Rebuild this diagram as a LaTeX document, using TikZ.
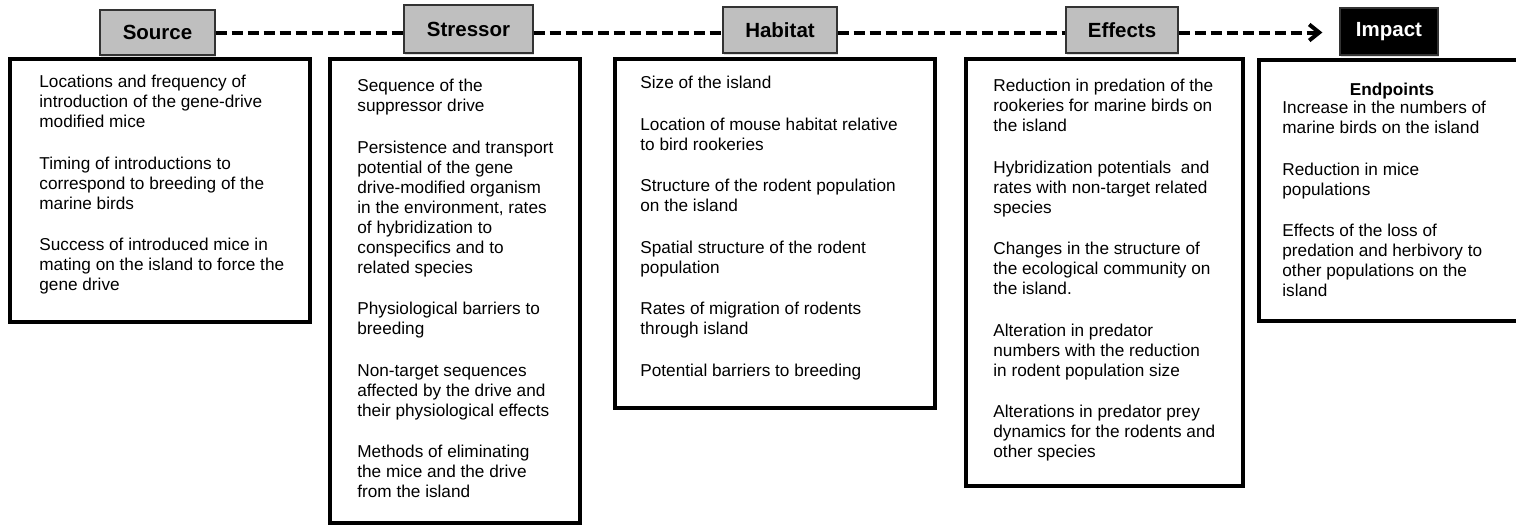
\documentclass[tikz,border=0pt]{standalone}
\usepackage{fontspec}
\setmainfont{Liberation Sans}
\usetikzlibrary{arrows.meta,shadows}
\newcommand{\parGap}{\\[10.75pt]}

\begin{document}
\begin{tikzpicture}[x=0.5pt, y=-0.5pt]
  \tikzset{
    panel/.style={draw, line width=2pt, fill=white, inner sep=0pt},
    head/.style={draw=black!80, line width=0.6pt, fill=black!25, inner sep=0pt,
      font=\bfseries\fontsize{10.25}{12}\selectfont,
      drop shadow={opacity=0.25, shadow xshift=0.4pt, shadow yshift=-0.8pt}},
    body/.style={anchor=north west, inner sep=0pt, align=left,
      font=\fontsize{8.6}{10}\selectfont, execute at begin node=\strut},
    flow/.style={line width=2pt, dash pattern=on 5.5pt off 2.5pt}
  }
  \useasboundingbox (0,0) rectangle (1516,527);

  \node[panel, minimum width=150pt, minimum height=131.5pt] (SRC-B) at (160,190.5) {};
  \node[panel, minimum width=125pt, minimum height=232pt] (STR-B) at (455,291) {};
  \node[panel, minimum width=160pt, minimum height=174.5pt] (HAB-B) at (775,233.5) {};
  \node[panel, minimum width=138.5pt, minimum height=213.5pt] (EFF-B) at (1104.5,272.5) {};
  \node[panel, minimum width=140.5pt, minimum height=130.5pt] (IMP-B) at (1399.5,190.5) {};

  \node[head, minimum width=57.5pt, minimum height=22.5pt] (SRC-H) at (157.5,32.5) {Source};
  \node[head, minimum width=64.5pt, minimum height=24pt] (STR-H) at (468.5,29) {Stressor};
  \node[head, minimum width=57pt, minimum height=23pt] (HAB-H) at (780,30) {Habitat};
  \node[head, minimum width=56pt, minimum height=23pt] (EFF-H) at (1122,30) {Effects};
  \node[head, fill=black, text=white, minimum width=49pt, minimum height=23.5pt] (IMP-H) at (1389,31.5) {Impact};

  \draw[flow] (SRC-H.east) -- (SRC-H.east -| STR-H.west);
  \draw[flow] (STR-H.east |- SRC-H.east) -- (SRC-H.east -| HAB-H.west);
  \draw[flow] (HAB-H.east |- SRC-H.east) -- (SRC-H.east -| EFF-H.west);
  \draw[flow, -{Straight Barb[length=5pt,width=8pt]}, shorten >=8.5pt]
    (EFF-H.east |- SRC-H.east) -- (SRC-H.east -| IMP-H.west);

  \node[body] (SRC-T) at (39,75) {Locations and frequency of\\introduction of the gene-drive\\modified mice\parGap
    Timing of introductions to\\correspond to breeding of the\\marine birds\parGap
    Success of introduced mice in\\mating on the island to force the\\gene drive};
  \node[body] (STR-T) at (357,79) {Sequence of the\\suppressor drive\parGap
    Persistence and transport\\potential of the gene\\drive-modified organism\\in the environment, rates\\of hybridization to\\conspecifics and to\\related species\parGap
    Physiological barriers to\\breeding\parGap
    Non-target sequences\\affected by the drive and\\their physiological effects\parGap
    Methods of eliminating\\the mice and the drive\\from the island};
  \node[body] (HAB-T) at (640,76) {Size of the island\parGap
    Location of mouse habitat relative\\to bird rookeries\parGap
    Structure of the rodent population\\on the island\parGap
    Spatial structure of the rodent\\population\parGap
    Rates of migration of rodents\\through island\parGap
    Potential barriers to breeding};
  \node[body] (EFF-T) at (993,79) {Reduction in predation of the\\rookeries for marine birds on\\the island\parGap
    Hybridization potentials~ and\\rates with non-target related\\species\parGap
    Changes in the structure of\\the ecological community on\\the island.\parGap
    Alteration in predator\\numbers with the reduction\\in rodent population size\parGap
    Alterations in predator prey\\dynamics for the rodents and\\other species};
  \node[body, anchor=base, execute at begin node={}, font=\bfseries\fontsize{8.6}{10}\selectfont] (IMP-E) at (1392,95) {Endpoints};
  \node[body] (IMP-T) at (1282,101) {Increase in the numbers of\\marine birds on the island\parGap
    Reduction in mice\\populations\parGap
    Effects of the loss of\\predation and herbivory to\\other populations on the\\island};
\end{tikzpicture}
\end{document}
